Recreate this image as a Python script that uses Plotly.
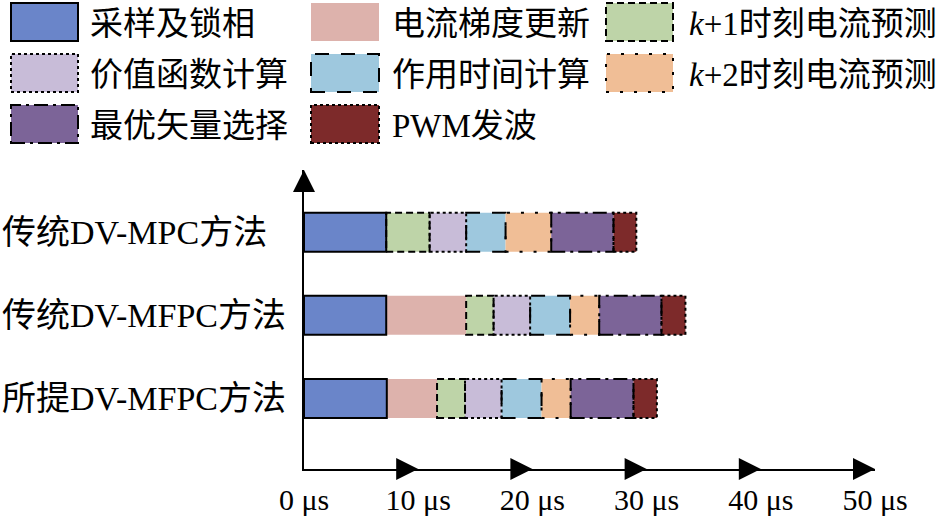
import plotly.graph_objects as go

# ---------------- data ----------------
methods = ["传统DV-MPC方法", "传统DV-MFPC方法", "所提DV-MFPC方法"]
stages = ["采样及锁相", "电流梯度更新", "<i>k</i>+1时刻电流预测", "价值函数计算",
          "作用时间计算", "<i>k</i>+2时刻电流预测", "最优矢量选择", "PWM发波"]
sampling = [7.2, 7.2, 7.25]
gradient = [0.0, 7.0, 4.4]
pred_k1 = [3.8, 2.4, 2.45]
cost_fn = [3.2, 3.2, 3.2]
dwell = [3.45, 3.5, 3.5]
pred_k2 = [4.0, 2.55, 2.55]
select = [5.45, 5.45, 5.5]
pwm = [2.0, 2.1, 2.05]
xticks = [0, 10, 20, 30, 40, 50]
xticklabels = ["0 μs", "10 μs", "20 μs", "30 μs", "40 μs", "50 μs"]

series = [sampling, gradient, pred_k1, cost_fn, dwell, pred_k2, select, pwm]

# ---------------- styles ----------------
colors = ["#6A85C9", "#DDB2AC", "#BED4A8", "#C8BCD8",
          "#9EC8DE", "#F0BE96", "#7C6498", "#7D2A2A"]
dashes = ["solid", None, "7px,4px", "3px,3px",
          "14px,12px", "3px,11px", "14px,5px,3px,5px", "3px,3px"]

W, H = 942, 518
ML, MR, MT, MB = 304, 67, 170, 49
PW, PH = W - ML - MR, H - MT - MB
YMIN, YMAX = -0.85, 2.75
BARW = 0.47
FONT = "Liberation Serif, Noto Sans CJK SC, serif"


def pxx(px):
    return (px - ML) / PW


def pxy(py):
    return (H - MB - py) / PH


ypos = [len(methods) - 1 - i for i in range(len(methods))]

fig = go.Figure()
shapes = []
bases = [0.0] * len(methods)
for k, vals in enumerate(series):
    fig.add_trace(go.Bar(
        x=vals, y=ypos, base=list(bases), orientation="h", width=BARW,
        marker=dict(color=colors[k], line=dict(width=0)),
        name=stages[k], showlegend=False, hoverinfo="x+name"))
    if dashes[k] is not None:
        for i, v in enumerate(vals):
            if v > 0:
                shapes.append(dict(
                    type="rect", xref="x", yref="y",
                    x0=bases[i], x1=bases[i] + v,
                    y0=ypos[i] - BARW / 2, y1=ypos[i] + BARW / 2,
                    line=dict(color="black", width=2, dash=dashes[k]),
                    fillcolor="rgba(0,0,0,0)", layer="above"))
    bases = [b + v for b, v in zip(bases, vals)]

# ---------------- custom legend ----------------
annotations = []
col_patch_x = [(11, 78), (311, 379), (606, 673)]
col_text_x = [88, 390, 687]
row_patch_y = [(3, 41), (54, 92), (105, 143)]
layout_pos = [(0, 0), (1, 0), (2, 0), (0, 1), (1, 1), (2, 1), (0, 2), (1, 2)]
for k, (c, r) in enumerate(layout_pos):
    x0, x1 = col_patch_x[c]
    y0, y1 = row_patch_y[r]
    ln = dict(width=0) if dashes[k] is None else dict(color="black", width=2, dash=dashes[k])
    shapes.append(dict(type="rect", xref="paper", yref="paper",
                       x0=pxx(x0), x1=pxx(x1), y0=pxy(y1), y1=pxy(y0),
                       fillcolor=colors[k], line=ln))
    annotations.append(dict(xref="paper", yref="paper", x=pxx(col_text_x[c]),
                            y=pxy((y0 + y1) / 2 + 2), xanchor="left", yanchor="middle",
                            text=stages[k], showarrow=False,
                            font=dict(family=FONT, size=33, color="black")))

# ---------------- category labels (left aligned) ----------------
for i, m in enumerate(methods):
    annotations.append(dict(xref="paper", yref="y", x=0, y=ypos[i], xanchor="left",
                            xshift=-ML, yanchor="middle", text=m, showarrow=False,
                            font=dict(family=FONT, size=34, color="black")))

# ---------------- axis arrowheads ----------------
for t in xticks[1:]:
    annotations.append(dict(xref="x", yref="paper", x=t, y=0, ax=-22, ay=0,
                            text="", showarrow=True, arrowhead=2, arrowsize=2.2,
                            arrowwidth=2, arrowcolor="black"))
annotations.append(dict(xref="paper", yref="paper", x=0, y=1, ax=0, ay=22,
                        text="", showarrow=True, arrowhead=2, arrowsize=2.2,
                        arrowwidth=2, arrowcolor="black"))

fig.update_layout(
    width=W, height=H,
    margin=dict(l=ML, r=MR, t=MT, b=MB, autoexpand=False),
    plot_bgcolor="white", paper_bgcolor="white",
    barmode="overlay",
    shapes=shapes, annotations=annotations,
    xaxis=dict(range=[0, 50], tickvals=xticks, ticktext=xticklabels,
               showline=True, linecolor="black", linewidth=2, ticks="",
               showgrid=False, zeroline=False, ticklabelstandoff=3,
               automargin=False,
               tickfont=dict(family=FONT, size=30, color="black")),
    yaxis=dict(range=[YMIN, YMAX], showline=True, linecolor="black", linewidth=2,
               showticklabels=False, ticks="", showgrid=False, zeroline=False,
               automargin=False),
)

fig.write_html("out.html", config={"displayModeBar": False},
               post_script="document.body.style.margin='0px';document.body.style.padding='0px';")
